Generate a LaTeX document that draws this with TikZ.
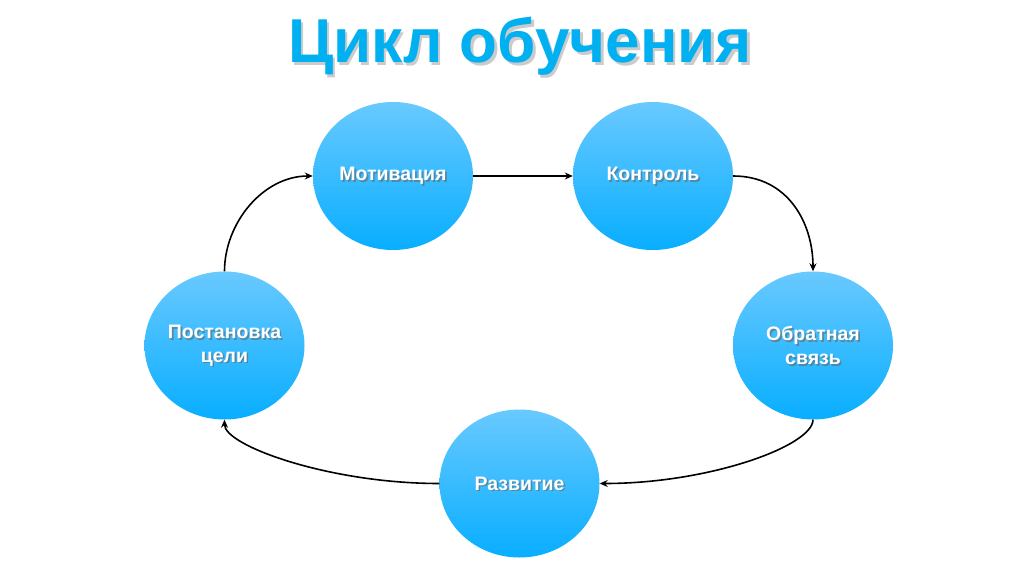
\documentclass[tikz,border=0pt]{standalone}
\usepackage{fontspec}
\setmainfont{Liberation Sans}
\usetikzlibrary{shapes.geometric,arrows.meta}
\definecolor{titlecol}{RGB}{0,176,240}
\definecolor{topc}{RGB}{105,201,255}
\definecolor{botc}{RGB}{8,174,255}
\tikzset{
  bubble/.style={ellipse, draw=none, inner sep=0pt, minimum width=160pt, minimum height=148pt, top color=topc, bottom color=botc},
  lbl/.style={text=white, font=\bfseries\fontsize{19.5}{23.5}\selectfont, align=center, inner sep=0pt},
  lblshadow/.style={text=black!60, opacity=0.6, font=\bfseries\fontsize{19.5}{23.5}\selectfont, align=center, inner sep=0pt},
  conn/.style={-{Stealth[length=8pt,width=7pt]}, line width=1.6pt, black},
}
\begin{document}
\begin{tikzpicture}[x=1pt,y=-1pt]
\fill[white] (0,0) rectangle (1012,578);
\useasboundingbox (0,0) rectangle (1012,578);
% title
\node[anchor=base, text=black!45, opacity=0.45, font=\bfseries\fontsize{62}{70}\selectfont, inner sep=0pt] (titleshadow) at (522.5,65.5) {Цикл обучения};
\node[anchor=base, text=titlecol, font=\bfseries\fontsize{62}{70}\selectfont, inner sep=0pt] (title) at (520,63) {Цикл обучения};
% bubbles
\node[bubble] (motiv) at (393,176) {};
\node[bubble] (kontr) at (653,176) {};
\node[bubble] (obr) at (813,345.5) {};
\node[bubble] (razv) at (519.5,483.5) {};
\node[bubble] (post) at (224.5,345.5) {};
% labels
\node[lblshadow] (motivs) at ([shift={(1.6,1.8)}]motiv.center) {Мотивация};
\node[lbl] (motivt) at (motiv.center) {Мотивация};
\node[lblshadow] (kontrs) at ([shift={(1.6,1.8)}]kontr.center) {Контроль};
\node[lbl] (kontrt) at (kontr.center) {Контроль};
\node[lblshadow] (obrs) at ([shift={(1.6,1.8)}]obr.center) {Обратная\\связь};
\node[lbl] (obrt) at (obr.center) {Обратная\\связь};
\node[lblshadow] (razvs) at ([shift={(1.6,1.8)}]razv.center) {Развитие};
\node[lbl] (razvt) at (razv.center) {Развитие};
\node[lblshadow] (posts) at ([shift={(1.6,1.8)}]post.center) {Постановка\\цели};
\node[lbl] (postt) at (post.center) {Постановка\\цели};
% connectors
\draw[conn] (motiv.east) -- (kontr.west);
\draw[conn] (kontr.east) .. controls +(55,0) and +(0,-48) .. (obr.north);
\draw[conn] (obr.south) .. controls +(0,26) and +(110,0) .. (razv.east);
\draw[conn] (razv.west) .. controls +(-110,0) and +(0,26) .. (post.south);
\draw[conn] (post.north) .. controls +(0,-48) and +(-50,0) .. (motiv.west);
\end{tikzpicture}
\end{document}
